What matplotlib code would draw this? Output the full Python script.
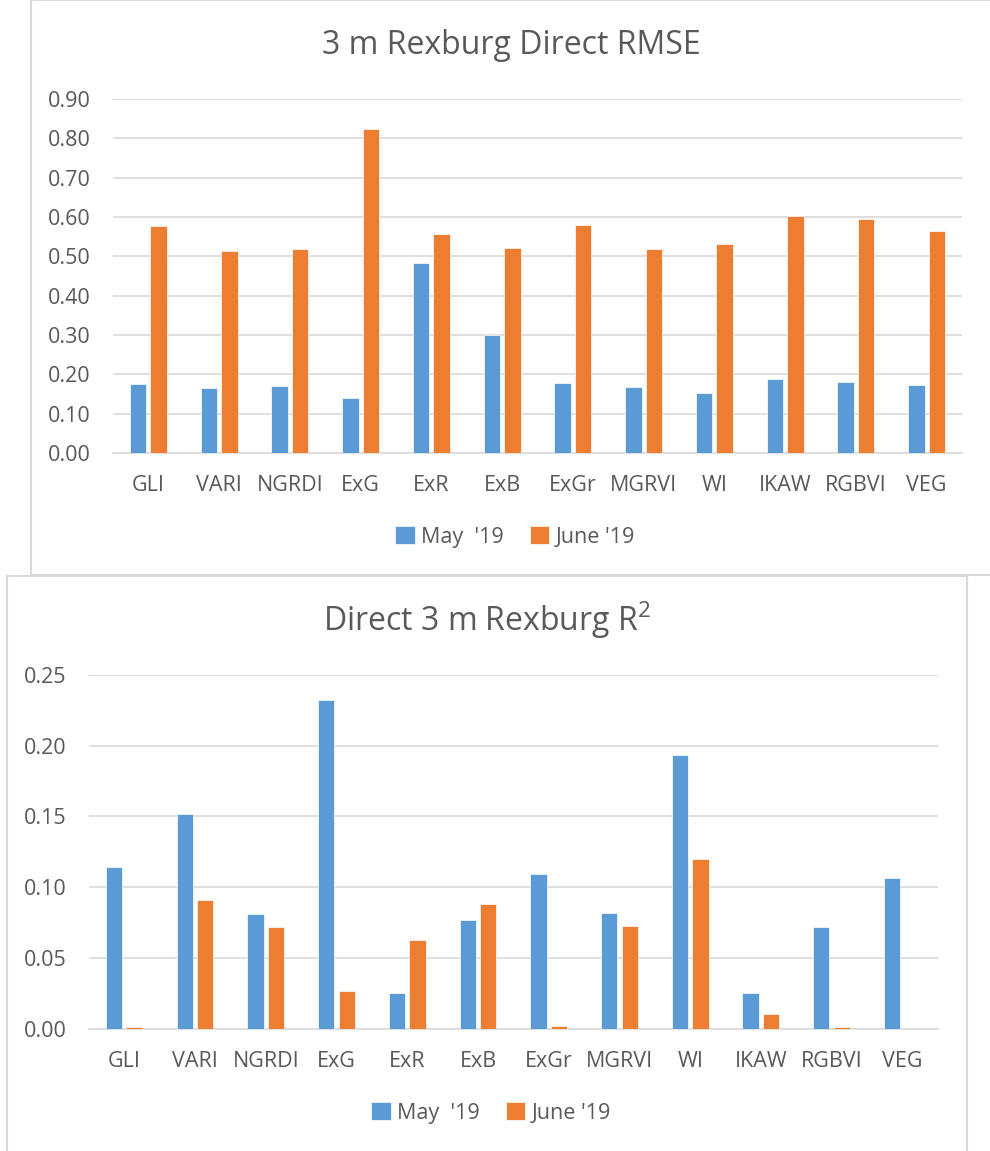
import numpy as np
import matplotlib
matplotlib.use('Agg')
import matplotlib.pyplot as plt
from matplotlib.patches import Rectangle

plt.rcParams['font.family'] = ['Open Sans', 'DejaVu Sans']
plt.rcParams['mathtext.fontset'] = 'custom'
plt.rcParams['mathtext.rm'] = 'Open Sans'
plt.rcParams['mathtext.it'] = 'Open Sans'

# Data
indices = ['GLI', 'VARI', 'NGRDI', 'ExG', 'ExR', 'ExB', 'ExGr', 'MGRVI', 'WI', 'IKAW', 'RGBVI', 'VEG']
series_names = ["May  '19", "June '19"]

rmse_may = [0.176, 0.165, 0.170, 0.140, 0.482, 0.299, 0.177, 0.168, 0.152, 0.187, 0.181, 0.174]
rmse_june = [0.577, 0.514, 0.518, 0.823, 0.556, 0.520, 0.580, 0.518, 0.531, 0.602, 0.594, 0.564]

r2_may = [0.114, 0.1515, 0.081, 0.232, 0.025, 0.0766, 0.1096, 0.0818, 0.1935, 0.0252, 0.0719, 0.1063]
r2_june = [0.001, 0.091, 0.072, 0.0267, 0.063, 0.088, 0.002, 0.0724, 0.120, 0.0104, 0.0012, 0.0]

BLUE = '#5B9BD5'
ORANGE = '#ED7D31'
TEXT = '#595959'
GRID = '#D9D9D9'

fig = plt.figure(figsize=(9.9, 11.51), dpi=100)

# panel frames (Excel chart areas)
fig.patches.append(Rectangle((31 / 990, 1 - 575 / 1151), 1.0, 575 / 1151,
                             transform=fig.transFigure, fill=False,
                             edgecolor=GRID, linewidth=1.5, zorder=-1))
fig.patches.append(Rectangle((7 / 990, -0.01), 960 / 990, 1 - 576 / 1151 + 0.01,
                             transform=fig.transFigure, fill=False,
                             edgecolor=GRID, linewidth=1.5, zorder=-1))


def draw(ax, may, june, ymax, step, title, title_xy):
    x = np.arange(len(indices))
    w = 0.23
    ax.bar(x - 0.145, may, w, color=BLUE, edgecolor='white', linewidth=0.5,
           label=series_names[0], zorder=3)
    ax.bar(x + 0.145, june, w, color=ORANGE, edgecolor='white', linewidth=0.5,
           label=series_names[1], zorder=3)
    ax.set_xlim(-0.5, len(indices) - 0.5)
    ax.set_ylim(0, ymax)
    ticks = np.arange(0, ymax + step / 2, step)
    ax.set_yticks(ticks)
    ax.set_yticklabels([f'{v:.2f}' for v in ticks])
    ax.set_xticks(x)
    ax.set_xticklabels(indices)
    ax.grid(axis='y', color=GRID, linewidth=1.2, zorder=0)
    ax.set_axisbelow(True)
    for s in ['top', 'right', 'left']:
        ax.spines[s].set_visible(False)
    ax.spines['bottom'].set_color(GRID)
    ax.spines['bottom'].set_linewidth(1.2)
    ax.tick_params(axis='y', length=0, pad=16, labelsize=15.5, labelcolor=TEXT)
    ax.tick_params(axis='x', length=0, pad=16, labelsize=15.5, labelcolor=TEXT)
    ax.set_facecolor('none')
    fig.text(title_xy[0], title_xy[1], title, ha='center', va='center',
             fontsize=23, color=TEXT)


ax1 = fig.add_axes([113 / 990, 1 - 453 / 1151, (962 - 113) / 990, (453 - 99) / 1151])
draw(ax1, rmse_may, rmse_june, 0.9, 0.1, '3 m Rexburg Direct RMSE', (511 / 990, 1 - 45 / 1151))
fig.legend(*ax1.get_legend_handles_labels(), loc='center', ncol=2,
           bbox_to_anchor=(515 / 990, 1 - 537 / 1151), frameon=False,
           fontsize=15.5, handlelength=0.9, handleheight=0.9,
           handletextpad=0.3, columnspacing=1.2, labelcolor=TEXT)

ax2 = fig.add_axes([89 / 990, 1 - 1028.7 / 1151, (937.7 - 89) / 990, (1028.7 - 675) / 1151])
draw(ax2, r2_may, r2_june, 0.25, 0.05, 'Direct 3 m Rexburg R$^{2}$', (487 / 990, 1 - 620 / 1151))
fig.legend(*ax2.get_legend_handles_labels(), loc='center', ncol=2,
           bbox_to_anchor=(491 / 990, 1 - 1113 / 1151), frameon=False,
           fontsize=15.5, handlelength=0.9, handleheight=0.9,
           handletextpad=0.3, columnspacing=1.2, labelcolor=TEXT)

fig.savefig('out.png', dpi=100)
